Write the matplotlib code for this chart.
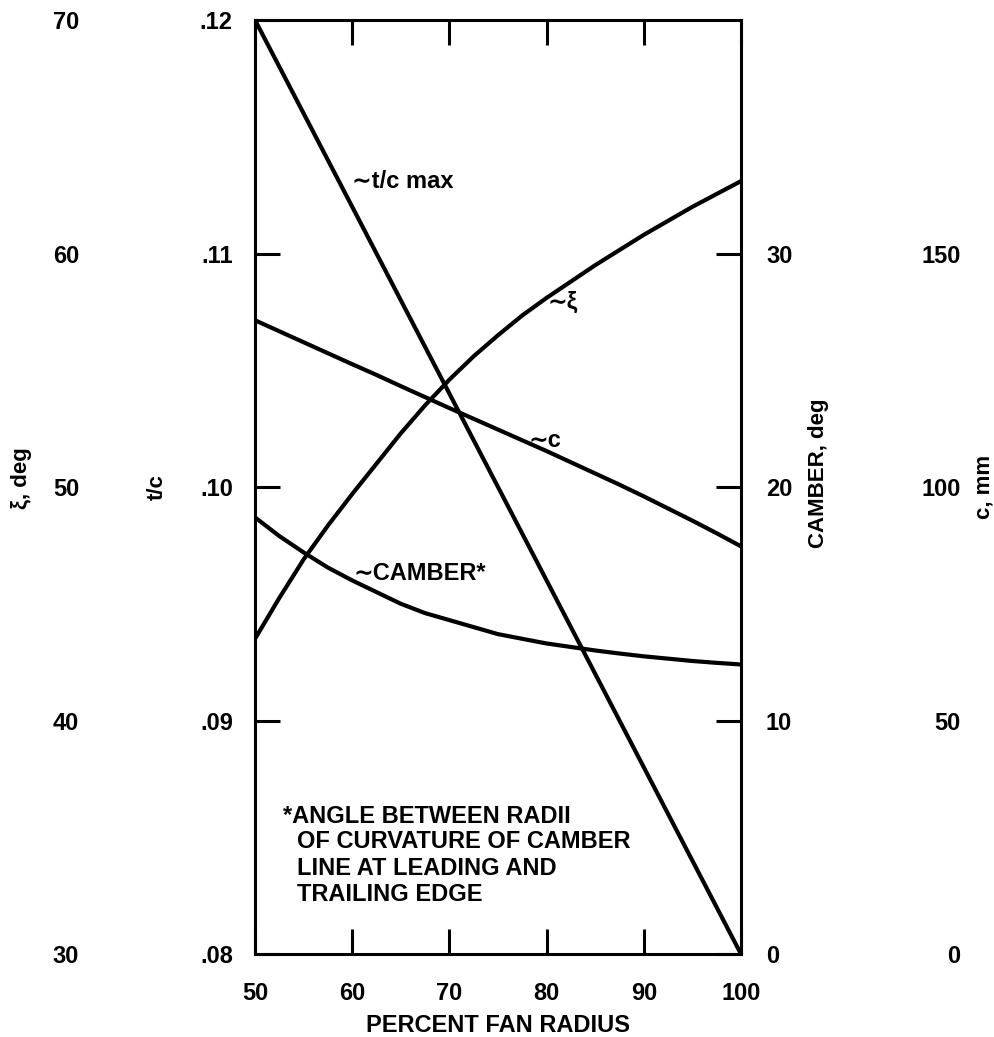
import matplotlib
matplotlib.use("Agg")
import matplotlib.pyplot as plt

plt.rcParams['font.family'] = ['Liberation Sans', 'DejaVu Sans']
plt.rcParams['font.weight'] = 'bold'

# percent fan radius
radius = [50, 52.5, 55, 57.5, 60, 62.5, 65, 67.5, 70, 72.5, 75,
          77.5, 80, 82.5, 85, 87.5, 90, 92.5, 95, 97.5, 100]

# t/c max (left axis)
tc_max = [0.120, 0.118, 0.116, 0.114, 0.112, 0.110, 0.108, 0.106, 0.104, 0.102, 0.100,
          0.098, 0.096, 0.094, 0.092, 0.090, 0.088, 0.086, 0.084, 0.082, 0.080]
# xi, deg (far left axis)
xi_deg = [43.5, 45.25, 46.9, 48.35, 49.7, 51.0, 52.3, 53.5, 54.6, 55.6, 56.5,
          57.35, 58.1, 58.8, 59.5, 60.15, 60.8, 61.4, 62.0, 62.55, 63.1]
# camber, deg (right axis)
camber_deg = [18.7, 17.9, 17.2, 16.55, 16.0, 15.5, 15.0, 14.6, 14.3, 14.0, 13.7,
              13.5, 13.3, 13.15, 13.0, 12.87, 12.75, 12.65, 12.55, 12.47, 12.4]
# chord c, mm (far right axis)
chord_mm = [135.7, 133.35, 131.0, 128.65, 126.3, 124.0, 121.6, 119.25, 116.9, 114.6, 112.3,
            110.0, 107.7, 105.3, 102.9, 100.5, 98.0, 95.4, 92.8, 90.1, 87.3]

x_ticks = [50, 60, 70, 80, 90, 100]
tc_ticks = [0.08, 0.09, 0.10, 0.11, 0.12]
tc_labels = ['.08', '.09', '.10', '.11', '.12']
xi_ticks = [30, 40, 50, 60, 70]
camber_ticks = [0, 10, 20, 30]
chord_ticks = [0, 50, 100, 150]

fs = 17
lw = 3.0

fig = plt.figure(figsize=(9.95, 10.37), dpi=100)
ax = fig.add_axes([0.2563, 0.0800, 0.4884, 0.9007])

ax.plot(radius, tc_max, color='black', lw=lw)
ax.set_xlim(50, 100)
ax.set_ylim(0.08, 0.12)
ax.set_xticks(x_ticks)
ax.set_xticklabels([str(v) for v in x_ticks])
ax.set_yticks(tc_ticks, tc_labels)
ax.tick_params(axis='both', direction='in', length=18, width=2.2,
               labelsize=fs, top=True)
ax.tick_params(axis='x', pad=20)
ax.tick_params(axis='y', pad=16)
for s in ax.spines.values():
    s.set_linewidth(2.2)
ax.set_xlabel('PERCENT FAN RADIUS', fontsize=fs, fontweight='bold')
ax.xaxis.set_label_coords(0.5, -0.064)
ax.set_ylabel('t/c', fontsize=16, fontweight='bold')
ax.yaxis.set_label_coords(-0.179, 0.5)

# xi axis, far left, labels only
ax_xi = ax.twinx()
ax_xi.plot(radius, xi_deg, color='black', lw=lw)
ax_xi.set_ylim(30, 70)
ax_xi.yaxis.tick_left()
ax_xi.yaxis.set_label_position('left')
for s in ax_xi.spines.values():
    s.set_visible(False)
ax_xi.spines['left'].set_position(('axes', -0.362))
ax_xi.set_yticks(xi_ticks)
ax_xi.tick_params(axis='y', length=0, pad=0, labelsize=fs)
ax_xi.set_ylabel('ξ, deg', fontsize=16, fontweight='bold')
ax_xi.yaxis.set_label_coords(-0.458, 0.51)

# camber axis, right spine
ax_cam = ax.twinx()
ax_cam.plot(radius, camber_deg, color='black', lw=lw)
ax_cam.set_ylim(0, 40)
ax_cam.set_yticks(camber_ticks)
ax_cam.tick_params(axis='y', direction='in', length=18, width=2.2,
                   labelsize=fs, pad=18)
for s in ax_cam.spines.values():
    s.set_visible(False)
ax_cam.set_ylabel('CAMBER, deg', fontsize=16, fontweight='bold')
ax_cam.yaxis.set_label_coords(1.138, 0.515)

# chord axis, far right, labels only
ax_c = ax.twinx()
ax_c.plot(radius, chord_mm, color='black', lw=lw)
ax_c.set_ylim(0, 200)
for s in ax_c.spines.values():
    s.set_visible(False)
ax_c.spines['right'].set_position(('axes', 1.452))
ax_c.set_yticks(chord_ticks, [str(v) for v in chord_ticks], ha='right')
ax_c.tick_params(axis='y', length=0, pad=0, labelsize=fs)
ax_c.set_ylabel('c, mm', fontsize=16, fontweight='bold')
ax_c.yaxis.set_label_coords(1.478, 0.5)

# curve labels
ax.text(60.0, 0.1131, '∼t/c max', fontsize=17, fontweight='bold', va='center')
ax.text(80.1, 0.1079, '∼ξ', fontsize=17, fontweight='bold', va='center')
ax.text(78.1, 0.1020, '∼c', fontsize=17, fontweight='bold', va='center')
ax.text(60.1, 0.0963, '∼CAMBER*', fontsize=17, fontweight='bold', va='center')

note = ['*ANGLE BETWEEN RADII', 'OF CURVATURE OF CAMBER',
        'LINE AT LEADING AND', 'TRAILING EDGE']
note_x = [52.9, 54.3, 54.3, 54.3]
note_y = [0.08587, 0.08480, 0.08368, 0.08253]
for t, nx, ny in zip(note, note_x, note_y):
    ax.text(nx, ny, t, fontsize=17, fontweight='bold', va='center')

fig.savefig('out.png', dpi=100)
